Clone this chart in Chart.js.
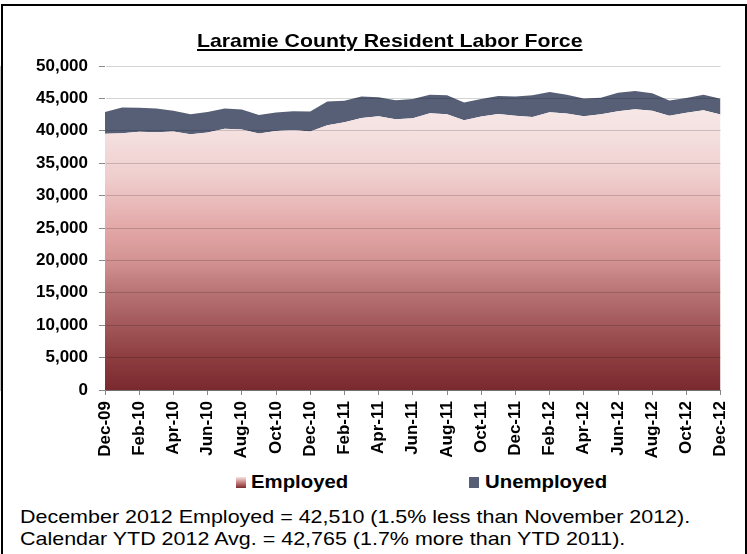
<!DOCTYPE html>
<html>
<head>
<meta charset="utf-8">
<script src="https://cdn.jsdelivr.net/npm/chart.js@4.4.0/dist/chart.umd.min.js"></script>
<style>
  html, body { margin: 0; padding: 0; background: #fff; }
  #frame {
    position: relative; width: 747px; height: 554px; overflow: hidden;
    font-family: Arial, "Liberation Sans", sans-serif; color: #000;
  }
  #box {
    position: absolute; left: 1px; top: 4px; width: 742px; height: 560px;
    border: 2px solid #000;
  }
  #chartWrap { position: absolute; left: 0; top: 0; width: 747px; height: 470px; }
  .stretch { position: absolute; white-space: nowrap; transform-origin: 0 0; }
  #title {
    left: 197px; top: 31px; font-size: 19px; line-height: 19px; font-weight: bold;
    transform: scaleX(1.12);
    text-decoration: underline; text-decoration-thickness: 2px; text-underline-offset: 2px;
  }
  .legText { font-size: 18.5px; line-height: 20px; font-weight: bold; top: 472px; transform: scaleX(1.1); }
  .legBox { position: absolute; width: 10px; height: 11px; top: 477px; }
  .note { left: 20px; font-size: 19px; line-height: 22px; transform: scaleX(1.13); }
</style>
</head>
<body>
<div id="frame">
  <div id="box"></div>
  <div id="chartWrap"><canvas id="laborChart"></canvas></div>
  <div id="title" class="stretch">Laramie County Resident Labor Force</div>

  <div class="legBox" style="left:236px; background: linear-gradient(#f7e4e4, #c77f80 50%, #7a2a2e);"></div>
  <div class="stretch legText" style="left:251px;">Employed</div>
  <div class="legBox" style="left:469px; background:#575f76;"></div>
  <div class="stretch legText" style="left:485px;">Unemployed</div>

  <div class="stretch note" style="top:506px;">December 2012 Employed = 42,510 (1.5% less than November 2012).</div>
  <div class="stretch note" style="top:528px;">Calendar YTD 2012 Avg. = 42,765 (1.7% more than YTD 2011).</div>
</div>

<script>
// Meses (Dec-09 .. Dec-12)
const meses = ['Dec-09', 'Jan-10', 'Feb-10', 'Mar-10', 'Apr-10', 'May-10', 'Jun-10', 'Jul-10', 'Aug-10', 'Sep-10', 'Oct-10', 'Nov-10',
  'Dec-10', 'Jan-11', 'Feb-11', 'Mar-11', 'Apr-11', 'May-11', 'Jun-11', 'Jul-11', 'Aug-11', 'Sep-11', 'Oct-11', 'Nov-11',
  'Dec-11', 'Jan-12', 'Feb-12', 'Mar-12', 'Apr-12', 'May-12', 'Jun-12', 'Jul-12', 'Aug-12', 'Sep-12', 'Oct-12', 'Nov-12', 'Dec-12'];

// Valores
const empleados = [39530, 39640, 39840, 39790, 39900, 39480, 39740, 40310, 40210, 39590, 39950, 40110,
  39900, 40840, 41310, 41980, 42250, 41800, 41940, 42720, 42560, 41620, 42190, 42610,
  42340, 42140, 42870, 42660, 42250, 42560, 43030, 43340, 43080, 42340, 42770, 43160, 42510];
const desempleados = [3390, 3950, 3710, 3650, 3180, 3080, 3180, 3130, 3070, 2860, 2870, 2920,
  3070, 3690, 3330, 3330, 2910, 2910, 2960, 2860, 2910, 2760, 2710, 2760,
  2970, 3330, 3130, 2920, 2750, 2540, 2860, 2810, 2700, 2350, 2280, 2420, 2440];

const yMax = 50000;
const yPaso = 5000;

// Degradado rojo del área de empleados
function degradado(context) {
  const chart = context.chart;
  const area = chart.chartArea;
  if (!area) return '#c07070';
  const g = chart.ctx.createLinearGradient(0, area.bottom, 0, area.top);
  g.addColorStop(0, '#7a2a2e');
  g.addColorStop(0.1, '#8d3d40');
  g.addColorStop(0.3, '#b87273');
  g.addColorStop(0.4, '#d49393');
  g.addColorStop(0.5, '#e3a7a7');
  g.addColorStop(0.65, '#efcccc');
  g.addColorStop(0.8, '#f5e1e1');
  g.addColorStop(1, '#fbf3f3');
  return g;
}

const ctx = document.getElementById('laborChart').getContext('2d');
const laborChart = new Chart(ctx, {
  type: 'line',
  data: {
    labels: meses,
    datasets: [{
      label: 'Employed',
      data: empleados,
      backgroundColor: degradado,
      borderWidth: 0,
      pointRadius: 0,
      fill: 'origin',
      tension: 0
    }, {
      label: 'Unemployed',
      data: desempleados,
      backgroundColor: '#575f76',
      borderWidth: 0,
      pointRadius: 0,
      fill: '-1',
      tension: 0
    }]
  },
  options: {
    responsive: true,
    maintainAspectRatio: false,
    animation: false,
    layout: { padding: { top: 66, right: 10, left: 0, bottom: 0 } },
    plugins: {
      legend: { display: false },
      tooltip: { enabled: false }
    },
    scales: {
      x: {
        offset: false,
        afterFit: (scale) => { scale.height = 80; },
        grid: { drawOnChartArea: false, color: '#888', tickLength: 5 },
        border: { color: '#888', width: 1 },
        ticks: {
          autoSkip: false,
          maxRotation: 90,
          minRotation: 90,
          padding: 6,
          color: '#000',
          font: { family: 'Arial, "Liberation Sans"', size: 17, weight: 'bold' },
          callback: function (value, index) {
            return index % 2 === 0 ? this.getLabelForValue(value) : null;
          }
        }
      },
      y: {
        stacked: true,
        min: 0,
        max: yMax,
        afterFit: (scale) => { scale.width = 105; },
        grid: { color: 'rgba(0,0,0,0.17)', tickColor: '#888', tickLength: 6, z: 1 },
        border: { color: '#888', width: 1 },
        ticks: {
          stepSize: yPaso,
          padding: 11,
          color: '#000',
          font: { family: 'Arial, "Liberation Sans"', size: 17, weight: 'bold' },
          callback: (v) => v.toLocaleString('en-US')
        }
      }
    }
  }
});
</script>
</body>
</html>
